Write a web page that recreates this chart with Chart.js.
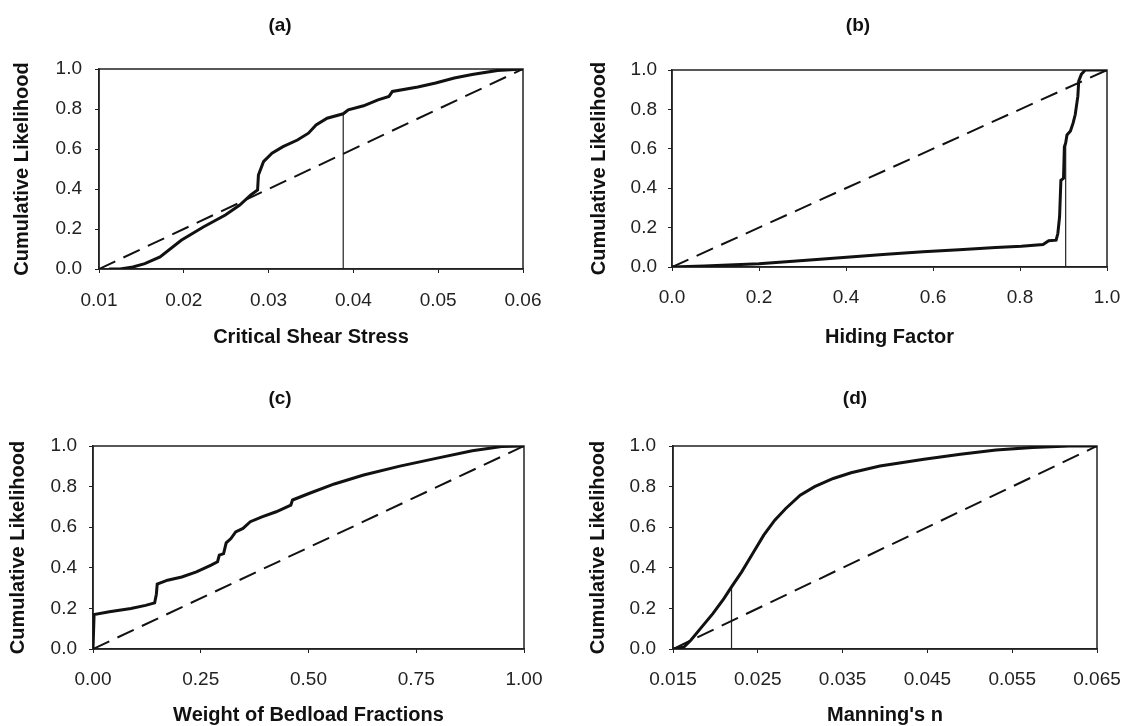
<!DOCTYPE html>
<html>
<head>
<meta charset="utf-8">
<script src="https://cdn.jsdelivr.net/npm/chart.js@4.4.1/dist/chart.umd.min.js"></script>
<style>
  body { margin: 0; background: #fff; }
  #wrap { position: relative; width: 1131px; height: 726px; overflow: hidden; }
  canvas { position: absolute; }
  .ptitle { position: absolute; font: bold 19px "Liberation Sans", Arial, sans-serif; color: #111; transform: translate(-50%, -50%); }
</style>
</head>
<body>
<div id="wrap">
  <canvas id="ca" width="565" height="360" style="left:0;top:0"></canvas>
  <canvas id="cb" width="566" height="360" style="left:565px;top:0"></canvas>
  <canvas id="cc" width="565" height="366" style="left:0;top:360px"></canvas>
  <canvas id="cd" width="566" height="366" style="left:565px;top:360px"></canvas>
  <div class="ptitle" style="left:280px;top:25px">(a)</div>
  <div class="ptitle" style="left:858px;top:25px">(b)</div>
  <div class="ptitle" style="left:280px;top:398px">(c)</div>
  <div class="ptitle" style="left:855px;top:398px">(d)</div>
</div>
<script>
// (a) critical shear stress
const shearX = [0.0112, 0.0125, 0.0140, 0.0154, 0.0172, 0.0197, 0.0223, 0.0249, 0.0266, 0.0279, 0.0287, 0.0288, 0.0294, 0.0304, 0.0317, 0.0334, 0.0347, 0.0356, 0.0369, 0.0388, 0.0394, 0.0412, 0.0429, 0.0442, 0.0446, 0.0476, 0.0497, 0.0519, 0.0540, 0.0570, 0.0600];
const shearY = [0.0, 0.0, 0.01, 0.027, 0.06, 0.144, 0.21, 0.27, 0.32, 0.37, 0.395, 0.47, 0.537, 0.579, 0.612, 0.645, 0.679, 0.72, 0.754, 0.776, 0.796, 0.816, 0.846, 0.863, 0.888, 0.91, 0.93, 0.955, 0.972, 0.993, 1.0];
const shearMark = 0.0388;
const shearTicks = [0.01, 0.02, 0.03, 0.04, 0.05, 0.06];

// (b) hiding factor
const hidingX = [0.0, 0.074, 0.2, 0.325, 0.409, 0.493, 0.577, 0.66, 0.744, 0.803, 0.853, 0.866, 0.883, 0.887, 0.891, 0.894, 0.9, 0.902, 0.905, 0.908, 0.916, 0.922, 0.927, 0.933, 0.935, 0.941, 0.95, 1.0];
const hidingY = [0.0, 0.005, 0.017, 0.037, 0.051, 0.065, 0.077, 0.088, 0.099, 0.105, 0.114, 0.133, 0.136, 0.17, 0.255, 0.44, 0.45, 0.61, 0.63, 0.67, 0.69, 0.73, 0.774, 0.867, 0.944, 0.978, 1.0, 1.0];
const hidingMark = 0.905;
const hidingTicks = [0.0, 0.2, 0.4, 0.6, 0.8, 1.0];

// (c) weight of bedload fractions
const bedloadX = [0.0, 0.0025, 0.038, 0.088, 0.122, 0.143, 0.147, 0.149, 0.173, 0.206, 0.24, 0.274, 0.289, 0.293, 0.303, 0.309, 0.32, 0.331, 0.348, 0.365, 0.392, 0.425, 0.459, 0.463, 0.501, 0.56, 0.628, 0.712, 0.796, 0.88, 0.948, 1.0];
const bedloadY = [0.0, 0.17, 0.183, 0.2, 0.215, 0.227, 0.27, 0.32, 0.339, 0.355, 0.38, 0.413, 0.43, 0.462, 0.47, 0.523, 0.544, 0.577, 0.594, 0.627, 0.651, 0.676, 0.709, 0.734, 0.766, 0.813, 0.857, 0.901, 0.939, 0.977, 0.997, 1.0];
const bedloadTicks = [0.0, 0.25, 0.5, 0.75, 1.0];

// (d) manning's n
const manningX = [0.015, 0.0163, 0.0171, 0.0184, 0.0197, 0.021, 0.0219, 0.0231, 0.0244, 0.0257, 0.027, 0.0283, 0.030, 0.0317, 0.0339, 0.036, 0.0394, 0.0446, 0.0489, 0.0531, 0.0574, 0.0617, 0.065];
const manningY = [0.0, 0.01, 0.043, 0.109, 0.174, 0.248, 0.306, 0.38, 0.47, 0.561, 0.635, 0.692, 0.758, 0.8, 0.84, 0.868, 0.901, 0.935, 0.959, 0.98, 0.993, 1.0, 1.0];
const manningMark = 0.0219;
const manningTicks = [0.015, 0.025, 0.035, 0.045, 0.055, 0.065];

const yTicks = [0.0, 0.2, 0.4, 0.6, 0.8, 1.0];

const FONT = '"Liberation Sans", Arial, sans-serif';

function pts(xs, ys) {
  return xs.map((x, i) => ({ x: x, y: ys[i] }));
}

function valueAt(xs, ys, x) {
  for (let i = 1; i < xs.length; i++) {
    if (xs[i] >= x) {
      const t = (x - xs[i - 1]) / (xs[i] - xs[i - 1] || 1);
      return ys[i - 1] + t * (ys[i] - ys[i - 1]);
    }
  }
  return ys[ys.length - 1];
}

// box around the plot area
const frame = {
  id: 'frame',
  beforeDatasetsDraw(chart) {
    const a = chart.chartArea;
    const c = chart.ctx;
    c.save();
    c.strokeStyle = '#222';
    c.lineWidth = 1.5;
    c.strokeRect(a.left, a.top, a.right - a.left, a.bottom - a.top);
    c.restore();
  }
};

function makePanel(p) {
  const datasets = [
    {
      data: [{ x: p.xTicks[0], y: 0 }, { x: p.xTicks[p.xTicks.length - 1], y: 1 }],
      borderColor: '#111', borderWidth: 2, borderDash: [18, 9], pointRadius: 0
    },
    {
      data: pts(p.xs, p.ys),
      borderColor: '#111', borderWidth: 3, pointRadius: 0, tension: 0
    }
  ];
  if (p.mark !== undefined) {
    datasets.push({
      data: [{ x: p.mark, y: 0 }, { x: p.mark, y: valueAt(p.xs, p.ys, p.mark) }],
      borderColor: '#222', borderWidth: 1.2, pointRadius: 0
    });
  }
  const canvas = document.getElementById(p.id);
  const w = canvas.width, h = canvas.height;
  new Chart(canvas, {
    type: 'line',
    data: { datasets: datasets },
    plugins: [frame],
    options: {
      responsive: false,
      animation: false,
      layout: {
        padding: { left: 0, top: p.plotT, right: w - p.plotR, bottom: h - (p.xTitleY + 10) }
      },
      plugins: { legend: { display: false }, tooltip: { enabled: false } },
      scales: {
        x: {
          type: 'linear',
          min: p.xTicks[0],
          max: p.xTicks[p.xTicks.length - 1],
          afterBuildTicks: s => { s.ticks = p.xTicks.map(v => ({ value: v })); },
          afterFit: s => {
            s.height = p.xTitleY + 10 - p.plotB;
            s.paddingLeft = 0;
            s.paddingRight = 0;
          },
          grid: { drawOnChartArea: false, drawTicks: true, tickLength: 4, color: '#222' },
          border: { color: '#222', width: 1.5 },
          ticks: {
            padding: p.xPad, color: '#222', maxRotation: 0, autoSkip: false,
            font: { family: FONT, size: 19 },
            callback: v => v.toFixed(p.xDec)
          },
          title: {
            display: true, text: p.xTitle, color: '#111', padding: { top: 0, bottom: 0 },
            font: { family: FONT, size: 20, weight: 'bold', lineHeight: 1 }
          }
        },
        y: {
          min: 0,
          max: 1,
          afterBuildTicks: s => { s.ticks = yTicks.map(v => ({ value: v })); },
          afterFit: s => {
            s.width = p.plotL;
            s.paddingTop = 0;
            s.paddingBottom = 0;
          },
          grid: { drawOnChartArea: false, drawTicks: true, tickLength: 4, color: '#222' },
          border: { color: '#222', width: 1.5 },
          ticks: {
            padding: p.yPad, color: '#222',
            font: { family: FONT, size: 19 },
            callback: v => v.toFixed(1)
          },
          title: {
            display: true, text: 'Cumulative Likelihood', color: '#111',
            padding: { top: p.yTitleX - 10, bottom: 0 },
            font: { family: FONT, size: 20, weight: 'bold', lineHeight: 1 }
          }
        }
      }
    }
  });
}

makePanel({ id: 'ca', xs: shearX, ys: shearY, mark: shearMark, xTicks: shearTicks, xDec: 2,
  xTitle: 'Critical Shear Stress', plotL: 99, plotR: 523, plotT: 69, plotB: 269,
  yTitleX: 22, xTitleY: 337, yPad: 13, xPad: 16 });
makePanel({ id: 'cb', xs: hidingX, ys: hidingY, mark: hidingMark, xTicks: hidingTicks, xDec: 1,
  xTitle: 'Hiding Factor', plotL: 107, plotR: 542, plotT: 70, plotB: 267,
  yTitleX: 34, xTitleY: 337, yPad: 11, xPad: 15 });
makePanel({ id: 'cc', xs: bedloadX, ys: bedloadY, xTicks: bedloadTicks, xDec: 2,
  xTitle: 'Weight of Bedload Fractions', plotL: 93, plotR: 524, plotT: 86, plotB: 289,
  yTitleX: 18, xTitleY: 355, yPad: 12, xPad: 15 });
makePanel({ id: 'cd', xs: manningX, ys: manningY, mark: manningMark, xTicks: manningTicks, xDec: 3,
  xTitle: "Manning's n", plotL: 108, plotR: 532, plotT: 86, plotB: 289,
  yTitleX: 33, xTitleY: 355, yPad: 13, xPad: 15 });
</script>
</body>
</html>
